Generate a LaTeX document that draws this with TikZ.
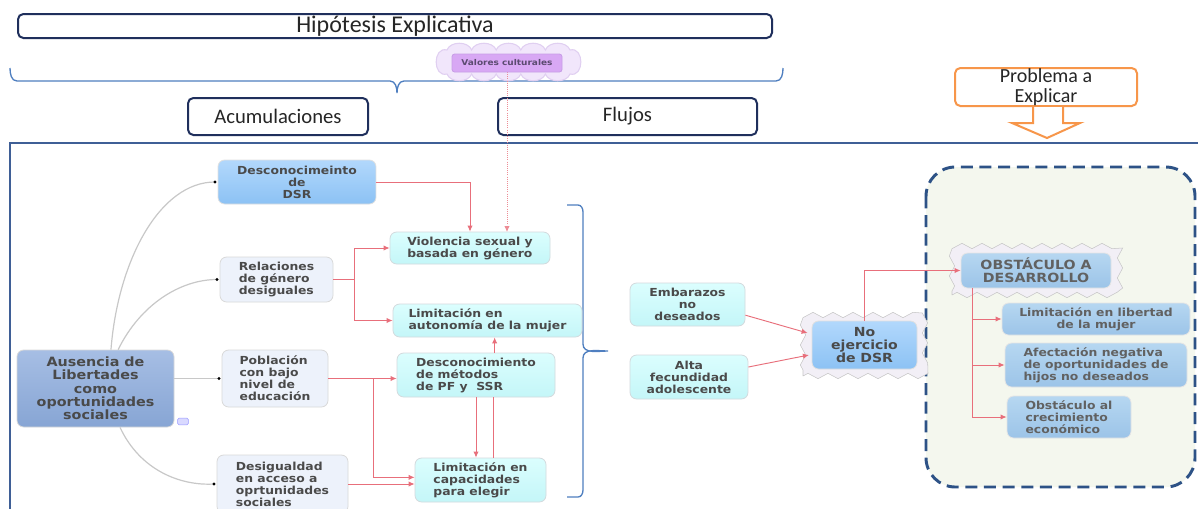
\documentclass[tikz,border=0pt]{standalone}
\usepackage{fontspec}
\setmainfont{DejaVu Sans}[FakeStretch=1.12]
\newfontfamily\hdrfont{Carlito}
\usetikzlibrary{decorations.pathmorphing,calc,arrows.meta}
\definecolor{navy}{HTML}{1F2F5C}
\definecolor{framec}{HTML}{3F5F96}
\definecolor{bracec}{HTML}{4F7FC0}
\definecolor{orng}{HTML}{F7964A}
\definecolor{txt}{HTML}{4A4A4A}
\definecolor{arrc}{HTML}{E86F7B}
\definecolor{curvec}{HTML}{C8C8C8}
\definecolor{dashc}{HTML}{2D5286}
\definecolor{dashfill}{HTML}{F4F7EE}
\definecolor{blueA}{HTML}{B2D8FC}
\definecolor{blueB}{HTML}{8CC2F4}
\definecolor{ausA}{HTML}{A6BEE4}
\definecolor{ausB}{HTML}{87A5D4}
\definecolor{paleF}{HTML}{EDF2FB}
\definecolor{cyanA}{HTML}{DBFEFE}
\definecolor{cyanB}{HTML}{C4F6F8}
\definecolor{rightA}{HTML}{B6D7F1}
\definecolor{rightB}{HTML}{9CC4E8}
\definecolor{burstF}{HTML}{F2EFF6}
\definecolor{cloudF}{HTML}{F1E6FB}
\definecolor{cloudD}{HTML}{E0CFF1}
\definecolor{valF}{HTML}{D8A8F4}
\definecolor{valD}{HTML}{C79DE6}
\definecolor{valT}{HTML}{5B4A70}
\tikzset{
  hdrbox/.style={draw=navy, line width=1.5pt, rounded corners=4pt, fill=white, font=\hdrfont\fontsize{15.5}{13.5}\selectfont, inner sep=0pt, align=center, text=black!85},
  probbox/.style={hdrbox, draw=orng, font=\hdrfont\fontsize{15}{14.5}\selectfont},
  nbox/.style={rounded corners=5pt, inner sep=0pt, align=center, font=\bfseries\fontsize{8.3}{9}\selectfont, text=txt, line width=0.6pt},
  bluebox/.style={nbox, draw=black!12, top color=blueA, bottom color=blueB},
  paleblue/.style={nbox, draw=black!15, fill=paleF},
  cyanbox/.style={nbox, draw=cyan!25!black!20, top color=cyanA, bottom color=cyanB},
  rightbox/.style={nbox, draw=black!10, top color=rightA, bottom color=rightB, text=black!62},
  ausbox/.style={nbox, draw=black!15, top color=ausA, bottom color=ausB, font=\bfseries\fontsize{9.6}{10}\selectfont},
  burst/.style={draw=black!22, fill=burstF, decorate, decoration={zigzag, segment length=15pt, amplitude=2pt}, inner sep=0pt},
  redarr/.style={draw=arrc, line width=0.7pt, -{Latex[length=4.5pt,width=4pt]}},
  redline/.style={draw=arrc, line width=0.7pt},
  curve/.style={draw=curvec, line width=0.9pt},
  dot/.style={fill=black, draw=none, circle, inner sep=0pt, minimum size=2.4pt}
}
\begin{document}
\begin{tikzpicture}[x=0.75pt, y=-0.75pt]
\useasboundingbox[fill=white] (0,0) rectangle (1198,508);
% frame
\draw[framec, line width=2.2pt] (10,512) -- (10,143) -- (1200,143);
% dashed region
\draw[dashc, fill=dashfill, line width=2.2pt, dash pattern=on 9pt off 5pt, rounded corners=22pt] (926,167) rectangle (1195,487);
% header boxes
\node[hdrbox, minimum width=565.5pt, minimum height=18pt, font=\hdrfont\fontsize{18}{18}\selectfont] (hip) at (395,26) {Hipótesis Explicativa};
\node[hdrbox, minimum width=135pt, minimum height=27.75pt] (acum) at (278,116.5) {Acumulaciones};
\node[hdrbox, minimum width=194.25pt, minimum height=27.75pt] (flu) at (627.5,116.5) {Flujos};
\node[probbox, minimum width=136.5pt, minimum height=28.5pt] (prob) at (1046,87) {Problema a\\Explicar};
\draw[orng, line width=1.5pt, fill=white, line join=miter]
  ($(prob.south)+(-13,0)$) -- ($(prob.south)+(-13,16)$) -- ($(prob.south)+(-34,16)$) --
  ($(prob.south)+(1,31)$) -- ($(prob.south)+(34,16)$) -- ($(prob.south)+(17,16)$) -- ($(prob.south)+(17,0)$);
% top brace
\draw[bracec, line width=1pt] (10,68) to[out=-90,in=180] (17,81) -- (390,81) to[out=0,in=90] (397,93)
  to[out=90,in=180] (404,81) -- (776,81) to[out=0,in=-90] (783,68);
% valores culturales cloud
\draw[draw=cloudD, fill=cloudF, line width=0.8pt]
  (447,50) to[out=70,in=110] (471.6,50) to[out=70,in=110] (496.2,50) to[out=70,in=110] (520.8,50)
  to[out=70,in=110] (545.4,50) to[out=70,in=110] (570,50)
  to[out=15,in=-15,looseness=1.6] (570,74)
  to[out=-110,in=-70] (545.4,74) to[out=-110,in=-70] (520.8,74) to[out=-110,in=-70] (496.2,74)
  to[out=-110,in=-70] (471.6,74) to[out=-110,in=-70] (447,74)
  to[out=195,in=165,looseness=1.6] cycle;
\draw[draw=arrc!80, line width=0.6pt, densely dotted, -{Latex[length=4.5pt,width=4pt]}] (507,72) -- (507,232);
\node[nbox, rounded corners=2pt, draw=valD, fill=valF, minimum width=82.5pt, minimum height=13.5pt, font=\bfseries\fontsize{6}{7}\selectfont, text=valT] (val) at (507,63) {Valores culturales};
% right brace
\draw[bracec, line width=1pt] (567,205) -- (578,205) to[out=0,in=90] (583,212) -- (583,344)
  to[out=-90,in=180] (608,351) to[out=180,in=90] (583,358) -- (583,490) to[out=-90,in=0] (578,497) -- (567,497);
% left nodes
\node[ausbox, minimum width=117.75pt, minimum height=57.75pt] (aus) at (95.5,388.5) {Ausencia de\\Libertades\\como\\oportunidades\\sociales};
\node[draw=blue!40, fill=blue!15, rounded corners=1pt, minimum width=8pt, minimum height=5pt, inner sep=0pt] (icon) at (183,421.5) {};
\node[bluebox, minimum width=118.5pt, minimum height=33pt] (desc) at (297,182) {Desconocimeinto\\de\\DSR};
\node[paleblue, align=left, minimum width=84.75pt, minimum height=33.75pt] (rel) at (276.5,279.5) {Relaciones\\de género\\desiguales};
\node[paleblue, align=left, minimum width=79.5pt, minimum height=42.75pt] (pob) at (275,378.5) {Población\\con bajo\\nivel de\\educación};
\node[paleblue, align=left, minimum width=98.25pt, minimum height=43.5pt] (desig) at (282.5,484) {Desigualdad\\en acceso a\\oprtunidades\\sociales};
% middle nodes
\node[cyanbox, align=left, minimum width=120pt, minimum height=24pt] (viol) at (470,248) {Violencia sexual y\\basada en género};
\node[cyanbox, align=left, minimum width=141.75pt, minimum height=24.75pt] (aut) at (487.5,320.5) {Limitación en\\autonomía de la mujer};
\node[cyanbox, align=left, minimum width=118.5pt, minimum height=33pt] (met) at (476,375) {Desconocimiento\\de métodos\\de PF y\ \ SSR};
\node[cyanbox, align=left, minimum width=98.25pt, minimum height=33pt] (cap) at (480.5,480) {Limitación en\\capacidades\\para elegir};
% flujos right
\node[cyanbox, minimum width=86.25pt, minimum height=32.25pt] (emb) at (687.5,304.5) {Embarazos\\no\\deseados};
\node[cyanbox, minimum width=88.5pt, minimum height=33pt] (alta) at (689,377) {Alta\\fecundidad\\adolescente};
\node[burst, minimum width=91.5pt, minimum height=45.75pt] (noejb) at (864,345.5) {};
\node[bluebox, minimum width=78.75pt, minimum height=36pt, font=\bfseries\fontsize{9.4}{10}\selectfont] (noej) at (864.5,345) {No\\ejercicio\\de DSR};
% problem region
\node[burst, minimum width=126pt, minimum height=36.75pt] (obstb) at (1036,270.5) {};
\node[rightbox, minimum width=112.5pt, minimum height=26.25pt, font=\bfseries\fontsize{9.5}{10}\selectfont] (obst) at (1036,270.5) {OBSTÁCULO A\\DESARROLLO};
\node[rightbox, minimum width=141pt, minimum height=24pt] (limlib) at (1096,319) {Limitación en libertad\\de la mujer};
\node[rightbox, align=left, minimum width=136.5pt, minimum height=33pt] (afec) at (1096,365) {Afectación negativa\\de oportunidades de\\hijos no deseados};
\node[rightbox, align=left, minimum width=93pt, minimum height=31.5pt] (obeco) at (1069,417) {Obstáculo al\\crecimiento\\económico};
% gray curves
\draw[curve] ([xshift=11.6pt]aus.north) .. controls (118,260) and (160,182) .. ([xshift=-2pt]desc.west);
\node[dot] (d1) at ([xshift=-2pt]desc.west) {};
\draw[curve] ([xshift=17pt]aus.north) .. controls (140,305) and (180,279.5) .. ([xshift=-2pt]rel.west);
\node[dot] (d2) at ([xshift=-2pt]rel.west) {};
\draw[curve] (aus.east |- pob.west) -- ([xshift=-2pt]pob.west);
\node[dot] (d3) at ([xshift=-2pt]pob.west) {};
\draw[curve] ([xshift=18.4pt]aus.south) .. controls (140,470) and (180,486) .. ([xshift=-2pt]desig.west);
\node[dot] (d4) at ([xshift=-2pt]desig.west) {};
% red arrows
\draw[redarr] (desc.east) -| (viol.north);
\draw[redline] (rel.east) -- ++(21,0) coordinate (rb);
\draw[redarr] (rb) |- (viol.west);
\draw[redarr] (rb) |- (aut.west);
\draw[redarr] (pob.east) -- (pob.east -| met.west);
\draw[redarr] ($(pob.east)+(45,0)$) |- ([yshift=2pt]cap.west);
\draw[redarr] (desig.east) -- (desig.east -| cap.west);
\draw[redarr] (met.south) -- (met.south |- cap.north);
\draw[redline] ([xshift=10pt]cap.north) -- ([xshift=10pt]cap.north |- met.south);
\draw[redarr] ([xshift=14pt]met.north) -- ([xshift=14pt]met.north |- aut.south);
\draw[redarr] ([yshift=-8pt]emb.east) -- ([yshift=9pt,xshift=-3pt]noej.west);
\draw[redarr] ([yshift=7.5pt]alta.east) -- ([yshift=-7.5pt,xshift=-2pt]noej.west);
\draw[redarr] (noej.north) |- (obst.west);
\coordinate (ob) at ([xshift=9pt]obst.south west);
\draw[redarr] (ob) |- (limlib.west);
\draw[redarr] (ob) |- (afec.west);
\draw[redarr] (ob) |- (obeco.west);
\end{tikzpicture}
\end{document}
